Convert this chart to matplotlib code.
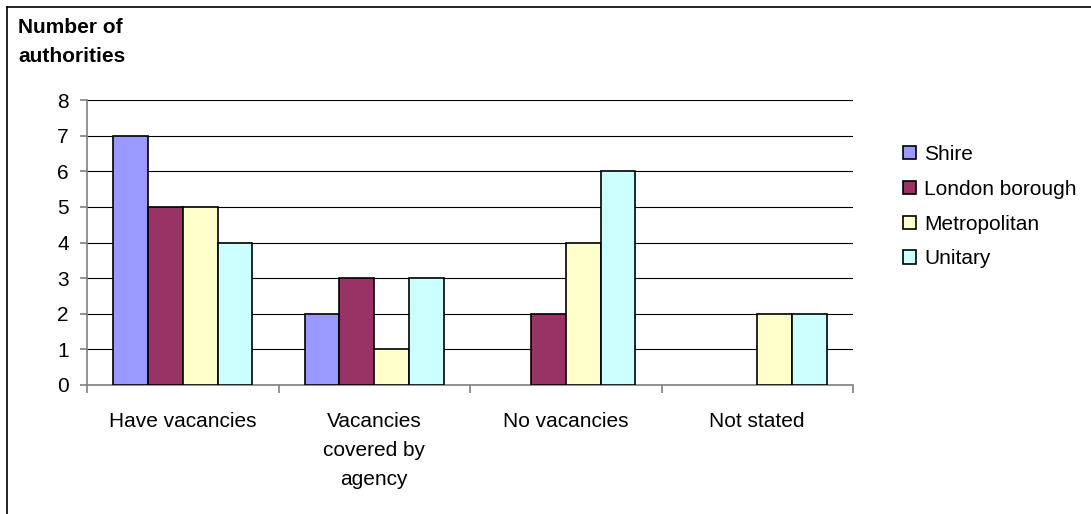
import numpy as np
import matplotlib.pyplot as plt
from matplotlib.lines import Line2D

plt.rcParams['font.family'] = ['Liberation Sans', 'DejaVu Sans']

categories = ["Have vacancies", "Vacancies\ncovered by\nagency", "No vacancies", "Not stated"]
series = ["Shire", "London borough", "Metropolitan", "Unitary"]
shire = [7, 2, 0, 0]
london = [5, 3, 2, 0]
metro = [5, 1, 4, 2]
unitary = [4, 3, 6, 2]
colors = ["#9999FF", "#993366", "#FFFFCC", "#CCFFFF"]
fs = 15

fig = plt.figure(figsize=(10.91, 5.14), dpi=100)
ax = fig.add_axes([87/1091, 129/514, 766/1091, 285/514])

x = np.arange(len(categories))
w = 1 / 5.5
for i, (name, vals) in enumerate(zip(series, [shire, london, metro, unitary])):
    vals = np.array(vals, dtype=float)
    mask = vals > 0
    ax.bar(x[mask] + (i - 1.5) * w, vals[mask], w, color=colors[i],
           edgecolor="black", linewidth=1.2, label=name, zorder=3)

ax.set_xlim(-0.5, 3.5)
ax.set_ylim(0, 8)
ax.set_yticks(range(9))
ax.yaxis.grid(True, color="black", linewidth=0.8, zorder=0)
ax.set_xticks(x)
ax.set_xticklabels(categories, fontsize=fs, linespacing=1.68)
ax.tick_params(axis="x", length=0, pad=19.5)
ax.set_xticks(np.arange(-0.5, 4, 1), minor=True)
ax.tick_params(axis="x", which="minor", length=6, color="#808080", width=1.2)
ax.tick_params(axis="y", labelsize=fs, length=5, color="#808080", width=1.2, pad=8)
for s in ["top", "right"]:
    ax.spines[s].set_visible(False)
for s in ["left", "bottom"]:
    ax.spines[s].set_color("#808080")
    ax.spines[s].set_linewidth(1.2)

fig.text(18/1091, 1 - 42/514, "Number of\nauthorities", fontsize=fs,
         fontweight="bold", va="center", ha="left", linespacing=1.68)

leg = fig.legend(loc="upper left", bbox_to_anchor=(903/1091, 1 - 145/514),
                 frameon=False, fontsize=fs, handlelength=0.62, handleheight=0.62,
                 handletextpad=0.4, labelspacing=0.76, borderpad=0, borderaxespad=0)

# outer chart frame (left and top edges)
fig.add_artist(Line2D([7/1091, 7/1091], [0, 1 - 7/514], color="black", linewidth=1.2))
fig.add_artist(Line2D([7/1091, 1], [1 - 7/514, 1 - 7/514], color="black", linewidth=1.2))

fig.savefig("out.png", dpi=100)
